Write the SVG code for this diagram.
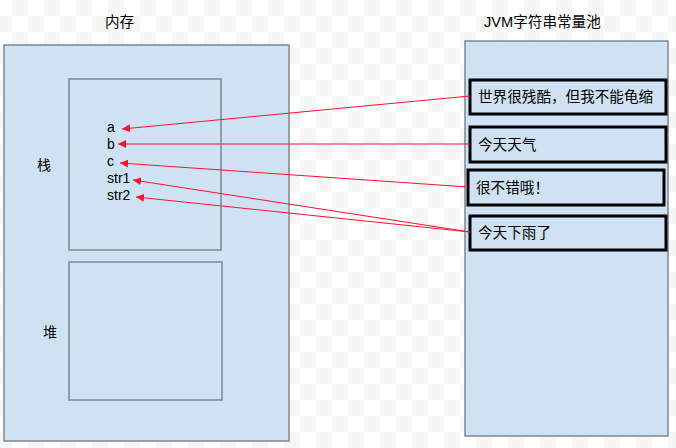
<svg xmlns="http://www.w3.org/2000/svg" width="676" height="448" viewBox="0 0 676 448">
<defs>
<pattern id="chk" x="12" y="0" width="32" height="32" patternUnits="userSpaceOnUse">
<rect width="32" height="32" fill="#ffffff"/>
<rect width="16" height="16" fill="#f5f5f5"/>
<rect x="16" y="16" width="16" height="16" fill="#f5f5f5"/>
</pattern>
<marker id="ah" viewBox="0 0 10 10" refX="10" refY="5" markerWidth="8" markerHeight="8" markerUnits="userSpaceOnUse" orient="auto">
<path d="M0,0 L10,5 L0,10 Z" fill="#ff1030"/>
</marker>
<style>
.t{font-family:"Liberation Sans","Noto Sans CJK SC",sans-serif;font-size:14px;fill:#000}
.c{font-size:14.6px}
.area{fill:#cfe2f3;stroke:#7e8891;stroke-width:1.5}
.str{fill:#cfe2f3;stroke:#000;stroke-width:3}
.con{stroke:#ff1030;stroke-width:1;fill:none;marker-end:url(#ah)}
</style>
</defs>
<rect width="676" height="448" fill="url(#chk)"/>

<g id="memory">
<text class="t c" x="105" y="27">内存</text>
<rect class="area" x="4" y="45" width="285" height="396"/>
</g>
<g id="stack">
<rect class="area" x="69" y="79" width="152" height="171"/>
<text class="t" x="37" y="170">栈</text>
<text class="t" x="107" y="132">a</text>
<text class="t" x="107" y="149">b</text>
<text class="t" x="107" y="166">c</text>
<text class="t" x="107" y="183">str1</text>
<text class="t" x="107" y="200">str2</text>
</g>
<g id="heap">
<rect class="area" x="69" y="262" width="153" height="138"/>
<text class="t" x="43" y="337">堆</text>
</g>
<g id="pool">
<text class="t c" x="484" y="27">JVM字符串常量池</text>
<rect class="area" x="465" y="41" width="203" height="395"/>
</g>
<g id="s1">
<rect class="str" x="470" y="80" width="196" height="34"/>
<text class="t c" x="478" y="102">世界很残酷，但我不能龟缩</text>
</g>
<g id="s2">
<rect class="str" x="470" y="127" width="196" height="35"/>
<text class="t c" x="478" y="150">今天天气</text>
</g>
<g id="s3">
<rect class="str" x="468" y="170" width="196" height="35"/>
<text class="t c" x="476" y="193">很不错哦！</text>
</g>
<g id="s4">
<rect class="str" x="470" y="216" width="196" height="34"/>
<text class="t c" x="478" y="238">今天下雨了</text>
</g>

<g id="connectors">
<line class="con" x1="470" y1="96" x2="122" y2="129"/>
<line class="con" x1="470" y1="144" x2="118" y2="144"/>
<line class="con" x1="468" y1="187" x2="120" y2="163"/>
<line class="con" x1="470" y1="232" x2="133" y2="180"/>
<line class="con" x1="470" y1="232" x2="136" y2="197"/>
</g>
</svg>
